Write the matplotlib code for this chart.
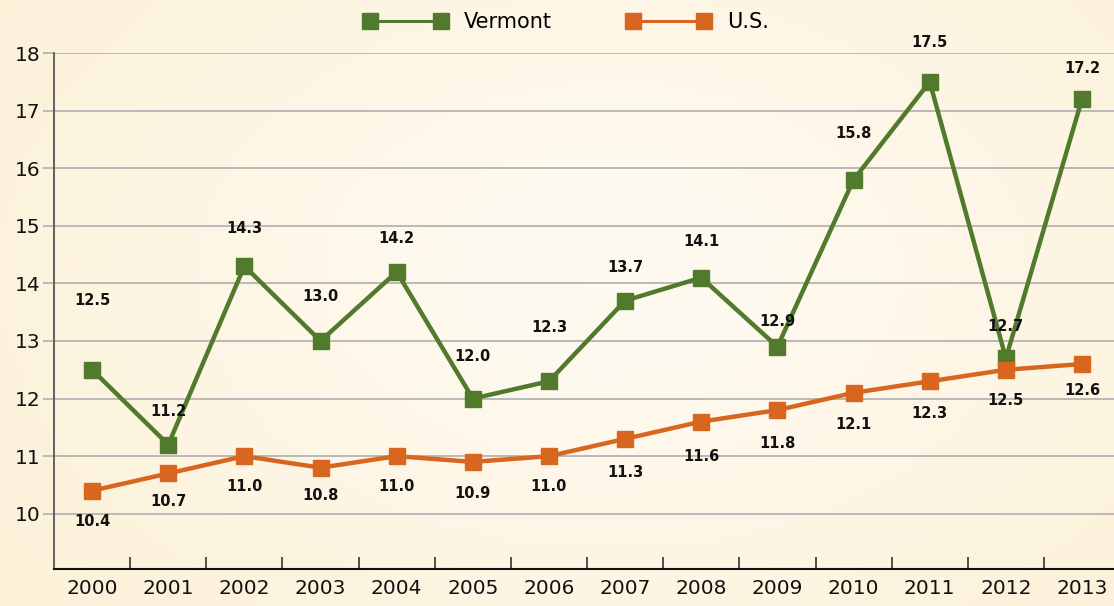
import matplotlib
matplotlib.use("Agg")
import matplotlib.pyplot as plt
from matplotlib.lines import Line2D
import numpy as np

years = ["2000", "2001", "2002", "2003", "2004", "2005", "2006",
         "2007", "2008", "2009", "2010", "2011", "2012", "2013"]
vermont = [12.5, 11.2, 14.3, 13.0, 14.2, 12.0, 12.3, 13.7, 14.1, 12.9, 15.8, 17.5, 12.7, 17.2]
us = [10.4, 10.7, 11.0, 10.8, 11.0, 10.9, 11.0, 11.3, 11.6, 11.8, 12.1, 12.3, 12.5, 12.6]

# label offsets in points (above for Vermont, below for U.S.)
vt_off = [50, 24, 27, 32, 24, 30, 39, 24, 26, 18, 33, 28, 23, 22]
us_off = [-22, -20, -22, -20, -22, -23, -22, -24, -25, -24, -23, -23, -22, -19]

green = "#527a2c"
orange = "#d8661f"

plt.rcParams['font.family'] = ['DejaVu Sans']

fig = plt.figure(figsize=(11.14, 6.06), dpi=100)
fig.patch.set_facecolor("#fdf5e2")

# soft cream gradient behind everything
bg = fig.add_axes([0, 0, 1, 1], zorder=-10)
gx, gy = np.meshgrid(np.linspace(0, 1, 200), np.linspace(0, 1, 120))
g = np.exp(-((gx - 0.55) ** 2 / 0.3 + (gy - 0.45) ** 2 / 0.45))
bg.imshow(g, cmap=matplotlib.colors.LinearSegmentedColormap.from_list(
    "cream", ["#fcf1d8", "#fffaf0"]), aspect="auto", extent=[0, 1, 0, 1])
bg.axis("off")

ax = fig.add_axes([0.0485, 0.061, 0.9515, 0.8515])
ax.set_facecolor("none")
x = np.arange(len(years))

ax.plot(x, vermont, color=green, lw=3.2, marker="s", ms=11, zorder=3)
ax.plot(x, us, color=orange, lw=3.2, marker="s", ms=11, zorder=3)

for i in range(len(years)):
    ax.annotate(f"{vermont[i]:.1f}", (x[i], vermont[i]), xytext=(0, vt_off[i]),
                textcoords="offset points", ha="center", va="center",
                fontsize=10.5, fontweight="bold", color="#111111")
    ax.annotate(f"{us[i]:.1f}", (x[i], us[i]), xytext=(0, us_off[i]),
                textcoords="offset points", ha="center", va="center",
                fontsize=10.5, fontweight="bold", color="#111111")

ax.set_xlim(-0.5, 13.42)
ax.set_ylim(9.04, 18)
ax.set_yticks(range(10, 19))
ax.grid(axis="y", color="#b4b4b4", lw=1.3)
ax.set_axisbelow(True)

ax.set_xticks(x)
ax.set_xticklabels(years)
ax.set_xticks(np.arange(0.5, 13.5, 1), minor=True)
ax.tick_params(axis="x", which="major", length=0, labelsize=14.5, pad=7, labelcolor="#111111")
ax.tick_params(axis="x", which="minor", direction="in", length=9, width=1.2, color="#333333")
ax.tick_params(axis="y", length=8, width=1.3, color="#b4b4b4", labelsize=14.5, pad=2, labelcolor="#111111")

for s in ["top", "right"]:
    ax.spines[s].set_visible(False)
ax.spines["left"].set_color("#555555")
ax.spines["left"].set_linewidth(1.3)
ax.spines["bottom"].set_color("#111111")
ax.spines["bottom"].set_linewidth(1.5)

handles = [Line2D([], [], color=green, lw=2.2, marker="s", ms=11),
           Line2D([], [], color=orange, lw=2.2, marker="s", ms=11)]
fig.legend(handles, ["Vermont", "U.S."], loc="center", bbox_to_anchor=(0.5085, 0.964),
           ncol=2, frameon=False, fontsize=15, numpoints=2, handlelength=4.0,
           columnspacing=3.6, handletextpad=0.8)

fig.savefig("out.png", dpi=100, facecolor=fig.get_facecolor())
